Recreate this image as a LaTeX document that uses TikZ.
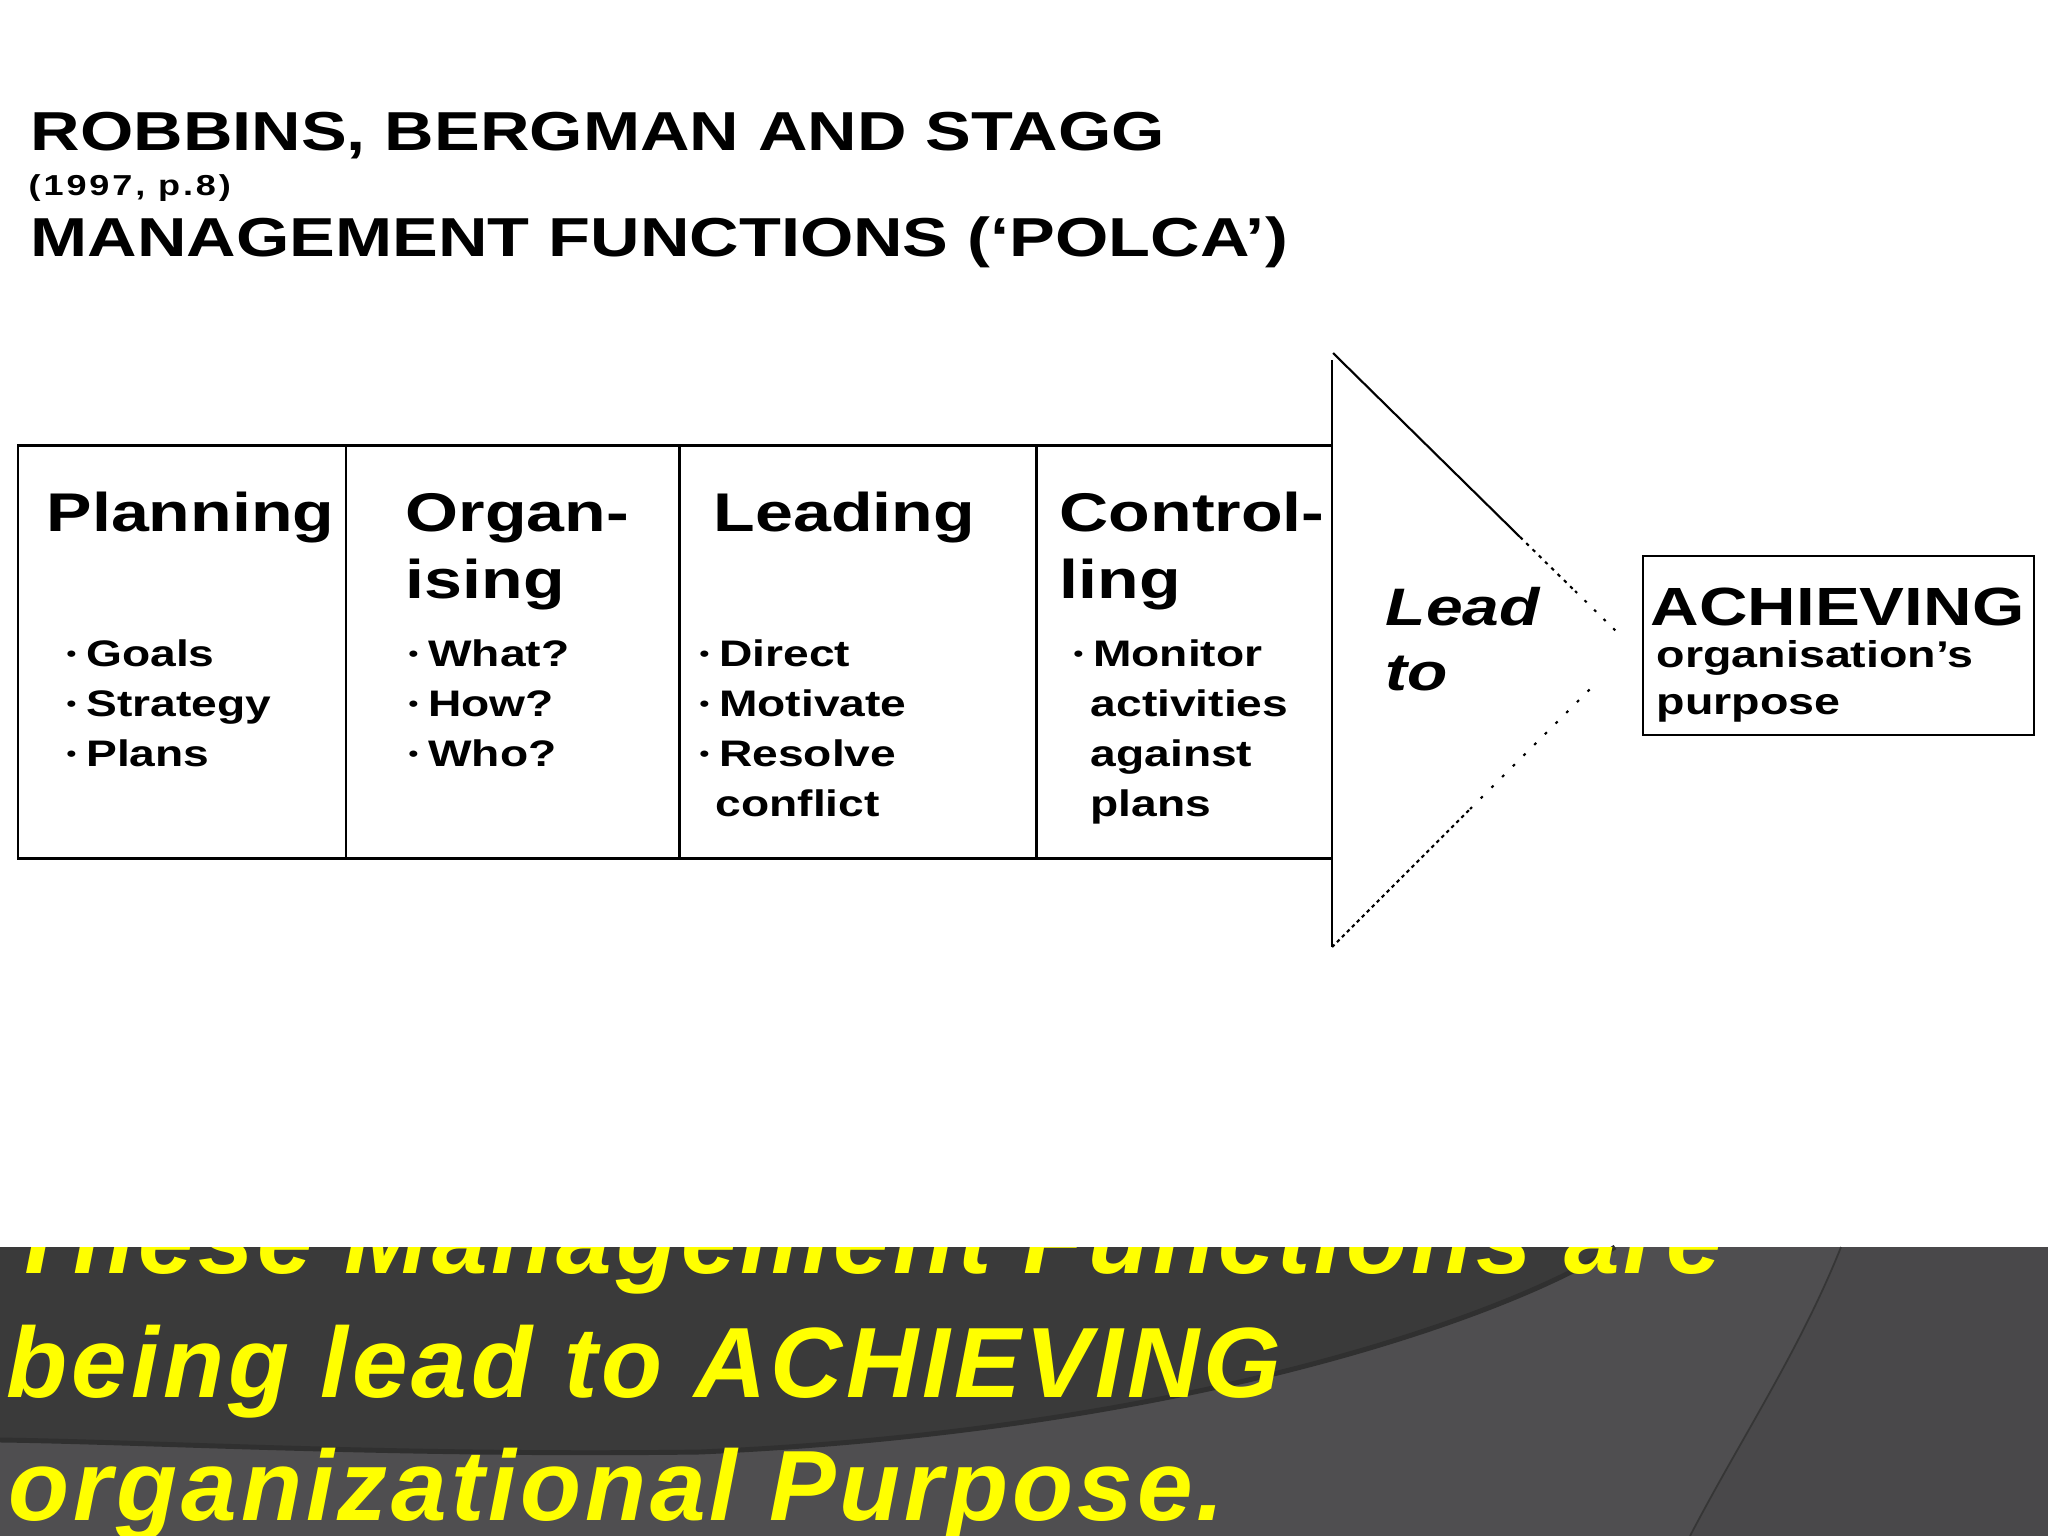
\documentclass[tikz,border=0pt]{standalone}
\usepackage{fontspec}
\usepackage{graphicx}
\setmainfont{Liberation Sans}[FakeStretch=1.25]
\newfontfamily\yearfont{Liberation Sans}[FakeStretch=1.25,LetterSpace=10]
\newfontfamily\bandfont{Liberation Sans}[LetterSpace=4]
\definecolor{banddark}{HTML}{3A3A3A}
\definecolor{bandmid}{HTML}{4F4E50}
\definecolor{bandright}{HTML}{49484A}
\definecolor{bandedge}{HTML}{303030}
\definecolor{slideyellow}{HTML}{FFFF00}
\tikzstyle{title}=[anchor=base west, inner sep=0pt, font=\fontsize{15.6}{18}\selectfont\bfseries]
\tikzstyle{head}=[anchor=base west, inner sep=0pt, font=\fontsize{15.5}{19}\selectfont\bfseries]
\tikzstyle{item}=[anchor=base west, inner sep=0pt, font=\fontsize{10.5}{14}\selectfont\bfseries]
\tikzstyle{leadto}=[anchor=base west, inner sep=0pt, font=\fontsize{15}{18}\selectfont\bfseries\itshape]
\tikzstyle{band}=[anchor=base west, inner sep=0pt, text=slideyellow, font=\bandfont\fontsize{28.4}{34}\selectfont\bfseries\itshape]
\tikzstyle{rule}=[line width=0.85pt]
\newcommand{\blt}{\makebox[0.53em][l]{\raisebox{0.12em}{\scalebox{0.6}{\textbullet}}}}

\begin{document}
\begin{tikzpicture}[x=0.01cm, y=-0.01cm]
\useasboundingbox (0,0) rectangle (2048,1536);
\fill[white] (0,0) rectangle (2048,1536);
\node[title] (t1) at (30,150) {ROBBINS, BERGMAN AND STAGG};
\node[title, font=\yearfont\fontsize{8.2}{9}\selectfont\bfseries] (t2) at (28,195) {(1997, p.8)};
\node[title] (t3) at (30,256) {MANAGEMENT FUNCTIONS (‘POLCA’)};

\draw[rule] (1332,445) -- (18,445) -- (18,858) -- (1332,858);
\foreach \x in {346,679,1036}
	\draw[rule] (\x,445) -- (\x,858);
\draw[line width=0.6pt] (1332,360) -- (1332,947);
\draw[line width=0.6pt] (1333,353) -- (1520,537);
\draw[line width=0.6pt, dash pattern=on 1pt off 1.5pt] (1520,537) -- (1575,591);
\draw[line width=0.6pt, dash pattern=on 0.8pt off 3pt] (1575,591) -- (1617,632);
\draw[line width=0.6pt, dash pattern=on 1pt off 1pt] (1332,947) -- (1470,809);
\draw[line width=0.6pt, dash pattern=on 0.8pt off 3.5pt] (1470,809) -- (1590,689);

\foreach \x/\t [count=\i] in {46/Planning, 405/Organ-, 713/Leading, 1059/Control-}
	\node[head] (h\i) at (\x,531) {\t};
\node[head] (h2b) at (405,598) {ising};
\node[head] (h4b) at (1059,598) {ling};

\foreach \t [count=\i] in {Goals,Strategy,Plans}
	\node[item] (p\i) at (66,616+50*\i) {\blt\t};
\foreach \t [count=\i] in {What?,How?,Who?}
	\node[item] (o\i) at (408,616+50*\i) {\blt\t};
\foreach \t [count=\i] in {Direct,Motivate,Resolve}
	\node[item] (l\i) at (699,616+50*\i) {\blt\t};
\node[item] (l4) at (715,816) {conflict};
\node[item] (c1) at (1073,666) {\blt Monitor};
\foreach \t [count=\i from 2] in {activities,against,plans}
	\node[item] (c\i) at (1090,616+50*\i) {\t};

\node[leadto] (lead1) at (1385,625) {Lead};
\node[leadto] (lead2) at (1385,690) {to};

\node[draw, line width=0.6pt, inner sep=0pt, anchor=north west, minimum width=3.91cm, minimum height=1.79cm] (goal) at (1642,555) {};
\node[title, font=\fontsize{15.3}{18}\selectfont\bfseries] (g1) at (1650,625) {ACHIEVING};
\node[item, font=\fontsize{10.6}{12}\selectfont\bfseries] (g2) at (1656,667) {organisation’s};
\node[item, font=\fontsize{10.6}{12}\selectfont\bfseries] (g3) at (1656,714) {purpose};

\fill[bandmid] (0,1247) rectangle (2048,1536);
\fill[bandright] (1841,1247) .. controls (1800,1350) and (1740,1440) .. (1690,1536) -- (2048,1536) -- (2048,1247) -- cycle;
\draw[bandedge!80!bandmid, line width=0.5pt] (1841,1247) .. controls (1800,1350) and (1740,1440) .. (1690,1536);
\fill[banddark] (0,1247) -- (1615,1247) .. controls (1520,1310) and (1200,1430) .. (700,1452) .. controls (400,1456) and (150,1442) .. (0,1440) -- cycle;
\draw[bandedge, line width=1.4pt] (1615,1247) .. controls (1520,1310) and (1200,1430) .. (700,1452) .. controls (400,1456) and (150,1442) .. (0,1440);
\begin{scope}
\clip (0,1247) rectangle (2048,1536);
\node[band] (b1) at (8,1273) {These Management Functions are};
\node[band] (b2) at (6,1397) {being lead to ACHIEVING};
\node[band] (b3) at (8,1520) {organizational Purpose.};
\end{scope}
\end{tikzpicture}
\end{document}
